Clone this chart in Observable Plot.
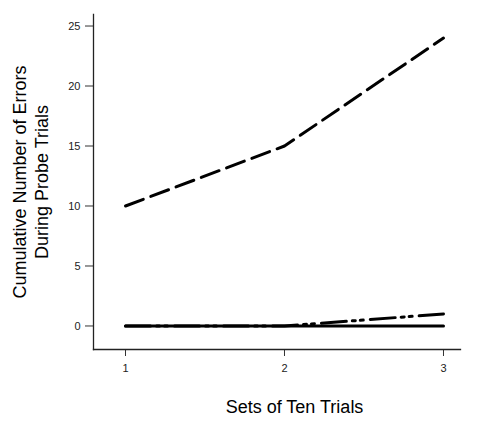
<!DOCTYPE html>
<html>
<head>
<meta charset="utf-8">
<script src="https://cdn.jsdelivr.net/npm/d3@7"></script>
<script src="https://cdn.jsdelivr.net/npm/@observablehq/plot@0.6"></script>
<style>
  html, body { margin: 0; padding: 0; background: #fff; }
  svg { display: block; }
</style>
</head>
<body>
<div id="chart"></div>
<script>
const trials = [1, 2, 3];
const dashedSeries = [10, 15, 24];
const dashDotSeries = [0, 0, 1];
const solidSeries = [0, 0, 0];
const yTicks = [0, 5, 10, 15, 20, 25];
const xTicks = [1, 2, 3];
const yTitle = "Cumulative Number of Errors\nDuring Probe Trials";
const xTitle = "Sets of Ten Trials";

const toRows = (vals) => trials.map((t, i) => ({ x: t, y: vals[i] }));

const chart = Plot.plot({
  width: 482,
  height: 423,
  marginTop: 14,
  marginRight: 22,
  marginBottom: 74,
  marginLeft: 93,
  style: { fontFamily: "'Liberation Sans', Arial, sans-serif", background: "#fff" },
  x: { domain: [0.7987, 3.107] },
  y: { domain: [-1.96, 25.96] },
  marks: [
    Plot.axisY({ ticks: yTicks, tickFormat: d3.format("d"), tickSize: 8, tickPadding: 5, fontSize: 11, label: null, stroke: "#333", color: "#222" }),
    Plot.axisX({ ticks: xTicks, tickFormat: d3.format("d"), tickSize: 7, tickPadding: 8, fontSize: 11, label: null, stroke: "#333", color: "#222" }),
    Plot.frame({ anchor: "left", stroke: "#222", strokeWidth: 1.3 }),
    Plot.frame({ anchor: "bottom", stroke: "#222", strokeWidth: 1.3 }),
    Plot.line(toRows(dashDotSeries), { x: "x", y: "y", stroke: "#000", strokeWidth: 3, strokeDasharray: "25,6,3,5,3,7" }),
    Plot.line(toRows(solidSeries), { x: "x", y: "y", stroke: "#000", strokeWidth: 3 }),
    Plot.line(toRows(dashedSeries), { x: "x", y: "y", stroke: "#000", strokeWidth: 3, strokeDasharray: "19,8" }),
    Plot.text([yTitle], { text: d => d, frameAnchor: "left", rotate: -90, textAnchor: "middle", lineAnchor: "middle", lineHeight: 1.2, fontSize: 18, dx: -63.5, fill: "#000" }),
    Plot.text([xTitle], { text: d => d, frameAnchor: "bottom", textAnchor: "middle", lineAnchor: "middle", fontSize: 18, dx: 17.5, dy: 57.7, fill: "#000" })
  ]
});
document.getElementById("chart").appendChild(chart);
</script>
</body>
</html>
